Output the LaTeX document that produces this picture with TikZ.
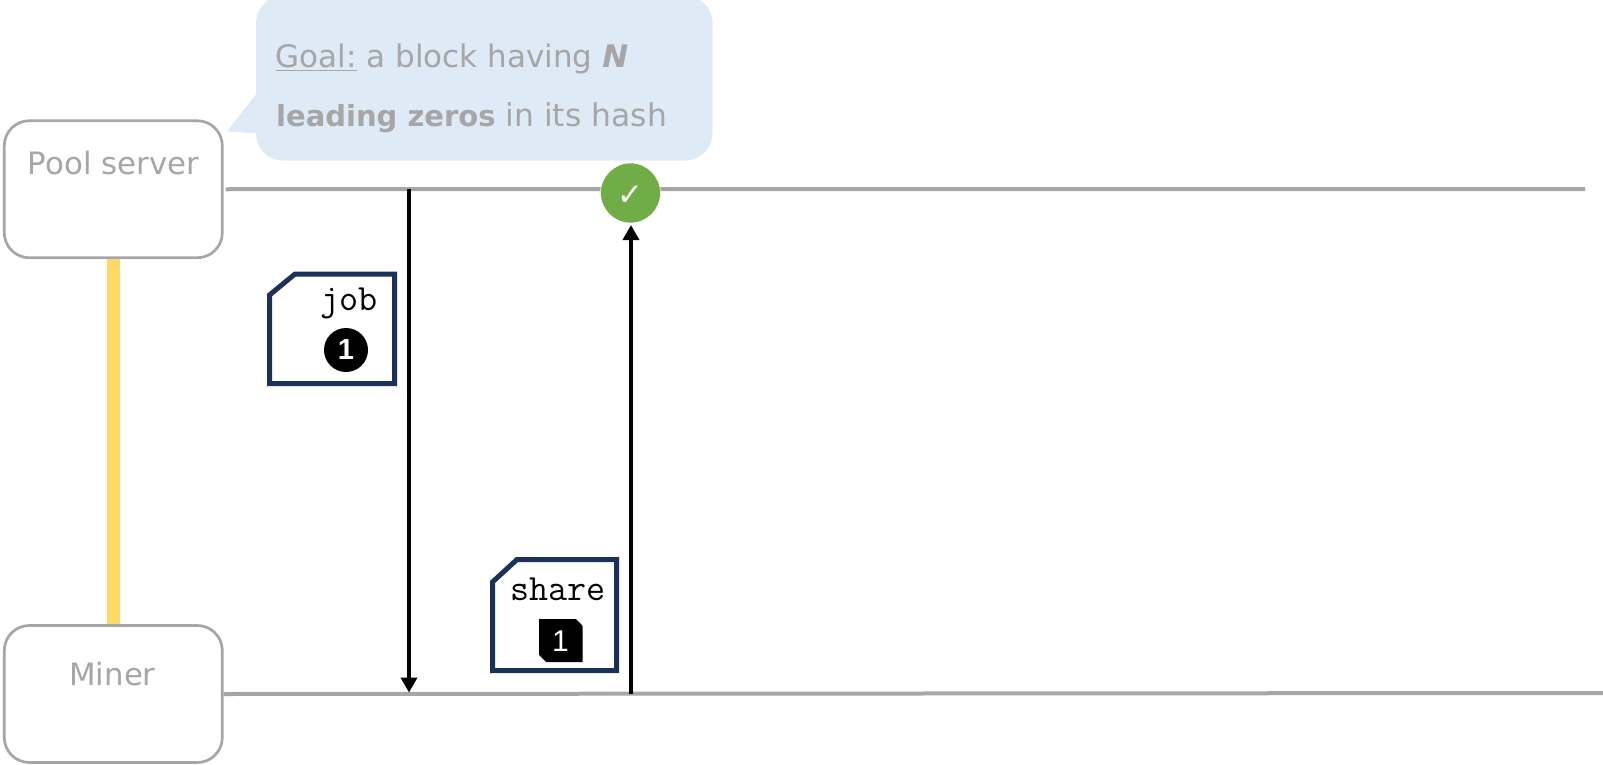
\documentclass[tikz,border=0pt]{standalone}
\usepackage{fontspec}
\setmainfont{DejaVu Sans}
\newfontfamily\arialf{Liberation Sans}
\usetikzlibrary{arrows.meta}
\definecolor{greyc}{HTML}{A6A6A6}
\definecolor{yellowc}{HTML}{FFD966}
\definecolor{calloutc}{HTML}{DEEAF6}
\definecolor{navyc}{HTML}{1A3159}
\definecolor{greenc}{HTML}{70AD47}
\newcommand{\boldpart}[1]{{\fontsize{29}{29}\selectfont\bfseries #1}}
\tikzset{
  actor/.style={draw=greyc,line width=2.7pt,rounded corners=25pt,fill=white,minimum width=218pt,minimum height=137pt,inner sep=0pt},
  actortext/.style={text=greyc,font=\fontsize{30.8}{30.8}\selectfont,anchor=base,inner sep=0pt},
  calltext/.style={text=greyc,font=\fontsize{31}{31}\selectfont,anchor=base west,inner sep=0pt},
  timeline/.style={draw=greyc,line width=4pt},
  flow/.style={draw=black,line width=3.5pt,-{Triangle[length=15pt,width=16pt]}},
  msgframe/.style={draw=navyc,line width=5pt,fill=white,miter limit=10},
  msgtext/.style={font=\ttfamily\fontsize{37}{37}\selectfont,anchor=base,inner sep=0pt,text=black},
  badge/.style={circle,fill=black,minimum size=44pt,inner sep=0pt,text=white,font=\arialf\bfseries\fontsize{29}{29}\selectfont},
  chiptext/.style={text=white,inner sep=0pt,font=\arialf\fontsize{30}{30}\selectfont},
}
\begin{document}
\begin{tikzpicture}[x=1pt,y=-1pt]
\useasboundingbox (0,0) rectangle (1603,765);
% callout
\begin{scope}
\clip (0,0) rectangle (1603,765);
\fill[calloutc,rounded corners=27pt] (256,-4) rectangle (712.5,160.5);
\fill[calloutc] (227,131.5) -- (257,93) -- (257,133.5) -- cycle;
\end{scope}
\node[calltext] (goal) at (275.5,68) {\underline{Goal:} a block having \textbf{\textit{N}}};
\node[calltext,font=\fontsize{31.4}{31.4}\selectfont] (zeros) at (276,127) {\boldpart{leading zeros} in its hash};
% actors
\node[actor] (pool) at (113.3,189.25) {};
\node[actor] (miner) at (113.3,694) {};
\node[actortext] (poollabel) at (113.5,175) {Pool server};
\node[actortext] (minerlabel) at (112.5,685) {Miner};
% yellow link
\draw[yellowc,line width=13pt] (pool.south) -- (miner.north);
% timelines
\coordinate (poolend) at (1585,189);
\coordinate (minerend) at (1603,693);
\draw[timeline] ([xshift=2pt]pool.east) -- (poolend);
\draw[timeline] (miner.east) -- (minerend);
% flows
\coordinate (jobtop) at (409,189);
\coordinate (jobbottom) at (409,692.5);
\coordinate (sharebottom) at (631,693.5);
\coordinate (sharetop) at (631,225);
\draw[flow] (jobtop) -- (jobbottom);
% check
\node[circle,fill=greenc,draw=white,line width=0.6pt,minimum size=60pt,inner sep=0pt] (check) at (630.5,193) {};
\node[text=white,inner sep=0pt,font=\fontsize{31}{31}\selectfont] (checkmark) at (630,196) {✓};
\draw[flow] (sharebottom) -- (sharetop);
% job message
\draw[msgframe] (269.5,295) -- (295,274) -- (394.5,274) -- (394.5,383.5) -- (269.5,383.5) -- cycle;
\node[msgtext] (jobtext) at (349,310) {job};
\node[badge] (jobbadge) at (346,350) {1};
% share message
\draw[msgframe] (492.5,582) -- (517,559.5) -- (616.5,559.5) -- (616.5,670.5) -- (492.5,670.5) -- cycle;
\node[msgtext] (sharetext) at (558,600) {share};
\fill[black] (539,619) -- (576,619) -- (582.7,626) -- (582.7,662) -- (546,662) -- (539,655) -- cycle;
\node[chiptext] (sharechip) at (560.5,641) {1};
\end{tikzpicture}
\end{document}
